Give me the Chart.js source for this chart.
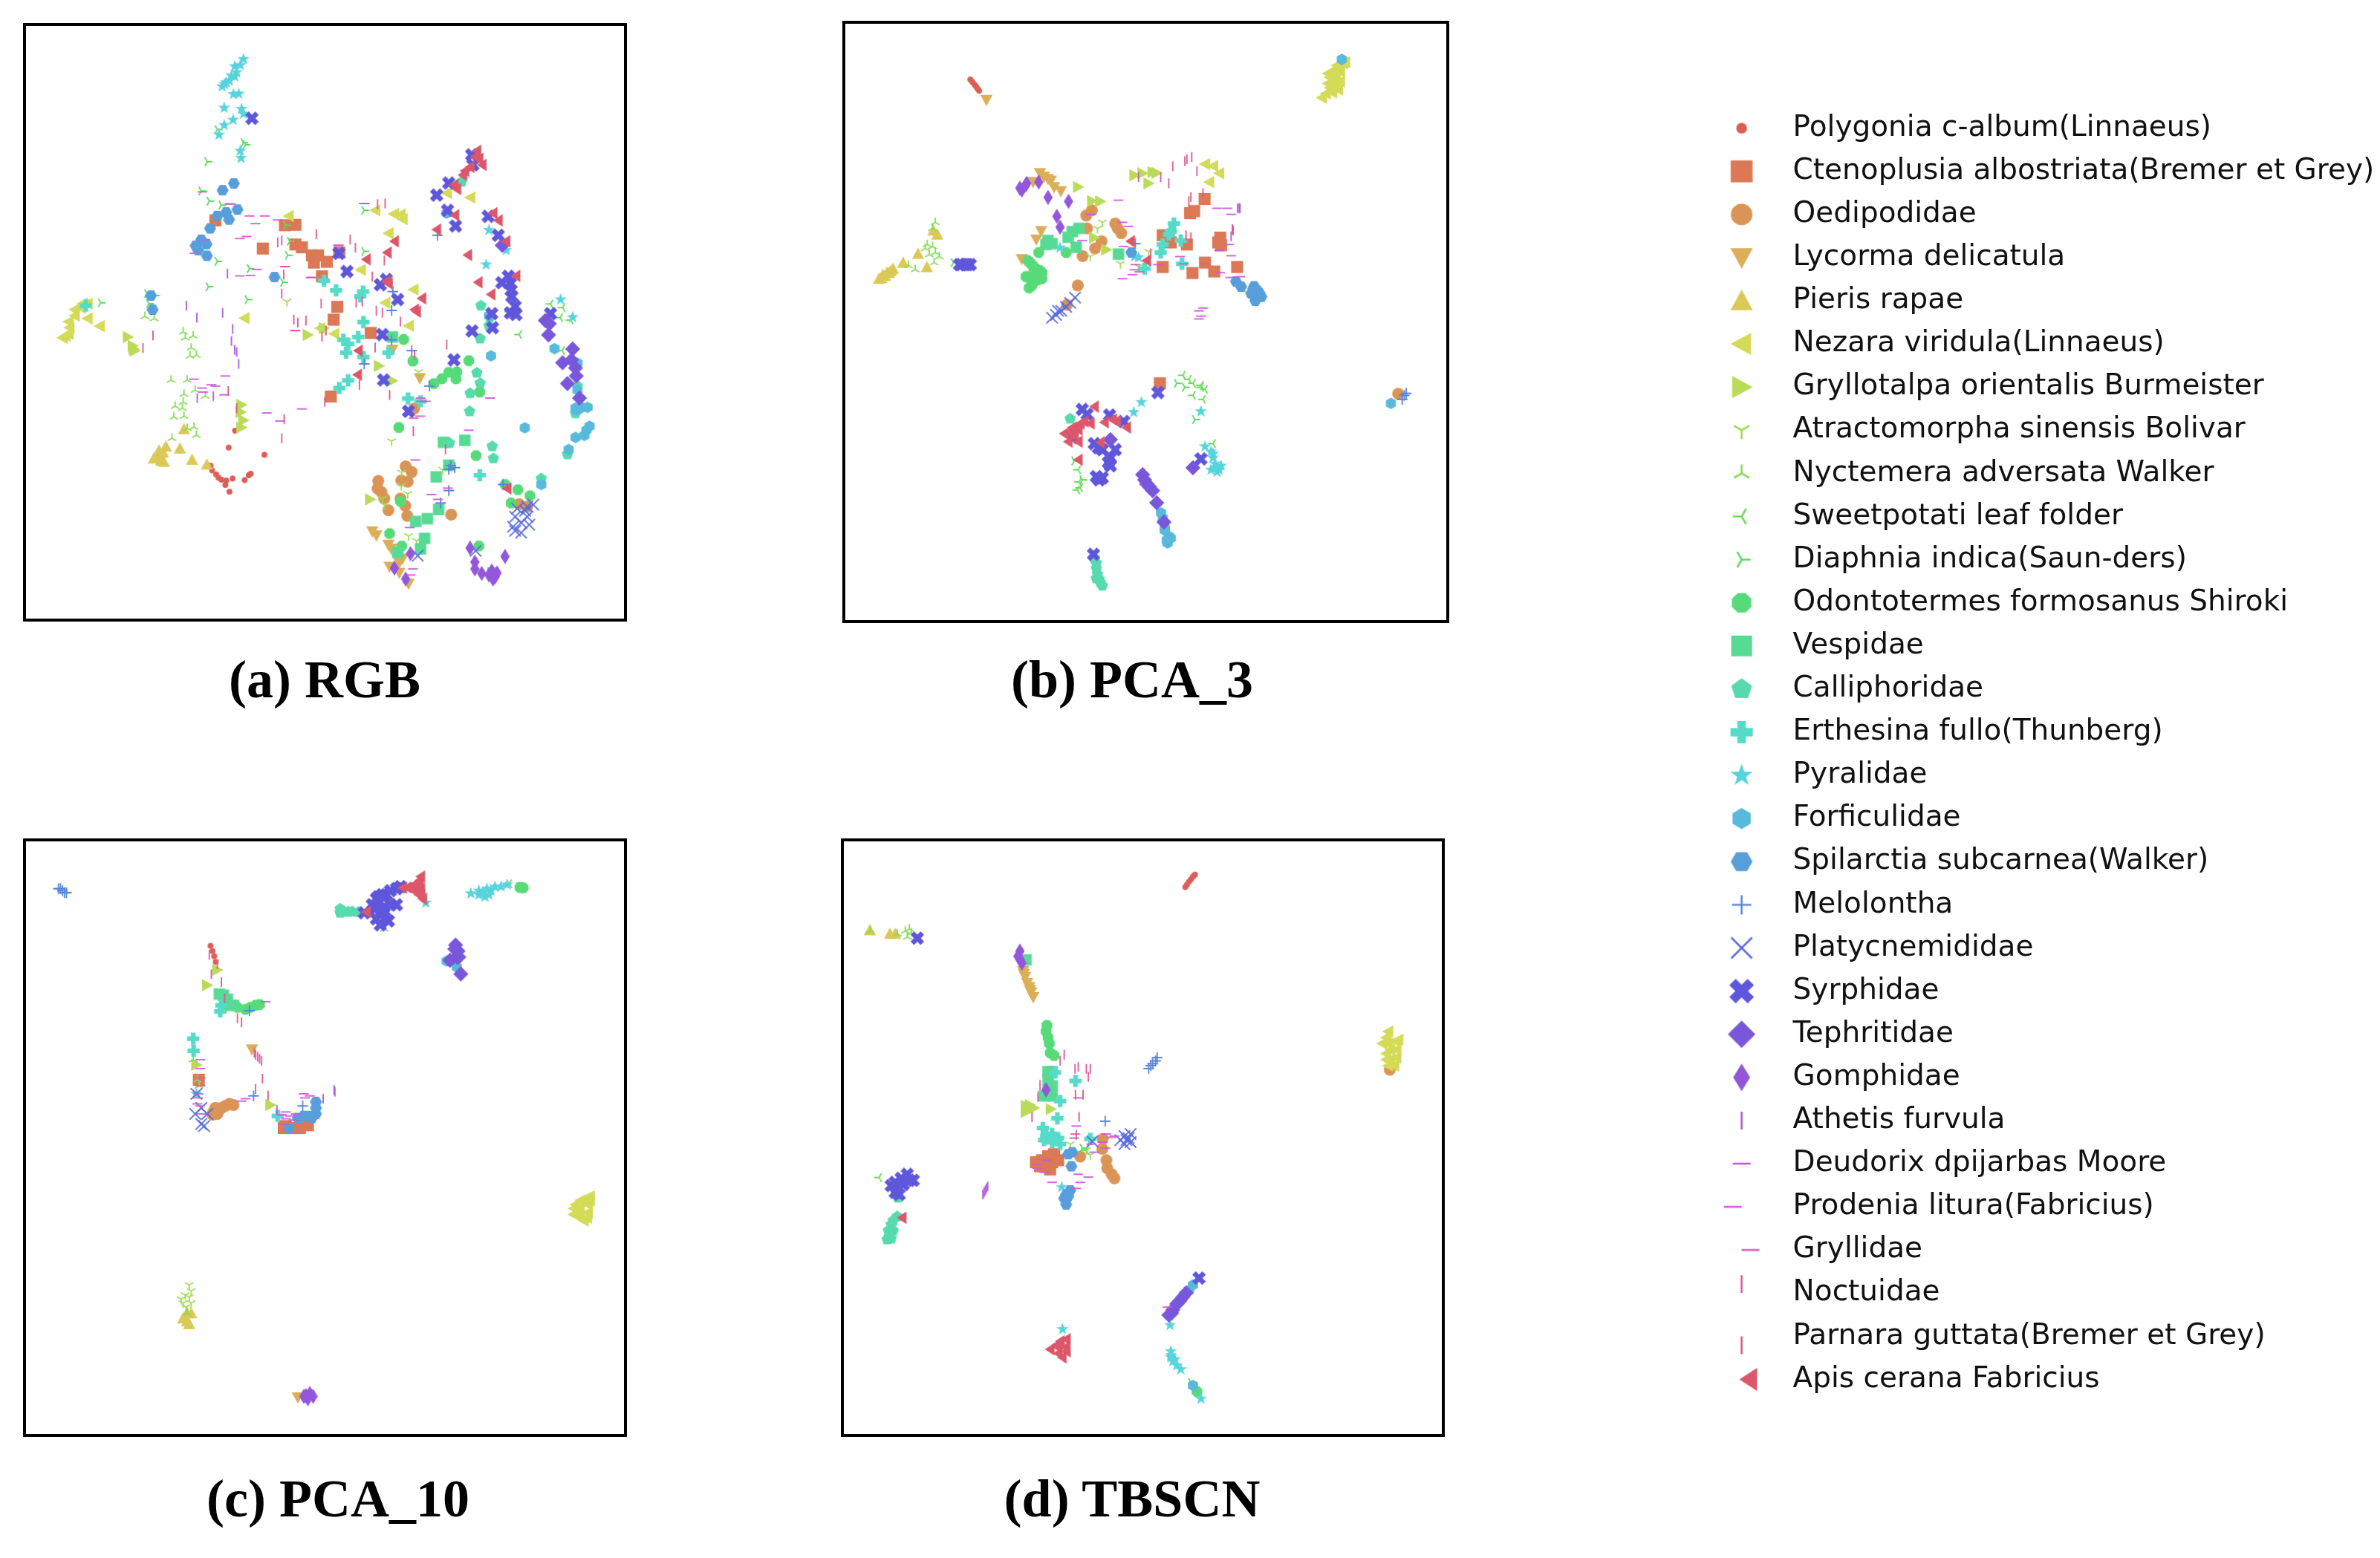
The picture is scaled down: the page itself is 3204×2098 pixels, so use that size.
<!DOCTYPE html>
<html><head><meta charset="utf-8">
<script src="https://cdn.jsdelivr.net/npm/chart.js@4"></script>
<style>
html,body{margin:0;padding:0;background:#fff;width:3204px;height:2098px;overflow:hidden}
canvas{position:absolute;display:block}
canvas.panel{filter:blur(.5px)}
.t{position:absolute;font:bold 72px "Liberation Serif",serif;color:#000;transform:translate(-50%,-50%);white-space:nowrap;line-height:1}
</style></head><body>
<script>
const names=["Polygonia c-album(Linnaeus)","Ctenoplusia albostriata(Bremer et Grey)","Oedipodidae","Lycorma delicatula","Pieris rapae","Nezara viridula(Linnaeus)","Gryllotalpa orientalis Burmeister","Atractomorpha sinensis Bolivar","Nyctemera adversata Walker","Sweetpotati leaf folder","Diaphnia indica(Saun-ders)","Odontotermes formosanus Shiroki","Vespidae","Calliphoridae","Erthesina fullo(Thunberg)","Pyralidae","Forficulidae","Spilarctia subcarnea(Walker)","Melolontha","Platycnemididae","Syrphidae","Tephritidae","Gomphidae","Athetis furvula","Deudorix dpijarbas Moore","Prodenia litura(Fabricius)","Gryllidae","Noctuidae","Parnara guttata(Bremer et Grey)","Apis cerana Fabricius"];
const panelTitles=["(a) RGB","(b) PCA_3","(c) PCA_10","(d) TBSCN"];

// ---- (a) RGB ----
const rgb00=[[574,1061],[558,1103],[647,1121],[513,1148],[517,1160],[527,1170],[533,1178],[540,1183],[552,1185],[568,1180],[598,1184],[613,1168],[608,1172],[550,1196],[560,1213]];
const rgb01=[[525,538],[698,550],[724,549],[643,608],[724,598],[740,605],[765,625],[780,625],[770,643],[802,641],[790,677],[833,618],[828,753],[819,785],[911,818],[812,976]];
const rgb02=[[1019,1006],[998,1150],[1013,1164],[987,1185],[1003,1188],[930,1186],[928,1205],[938,1214],[945,1230],[985,1230],[997,1248],[955,1259],[1002,1273],[1111,1270],[1280,1244],[1300,1250]];
const rgb03=[[965,860],[1033,931],[915,1312],[925,1322],[955,1345],[962,1355],[990,1380],[982,1390],[958,1400],[982,1415],[1005,1442]];
const rgb04=[[447,1057],[402,1100],[437,1105],[467,1133],[504,1145],[395,1115],[385,1120],[378,1128],[390,1135],[397,1138],[372,1130],[385,1110]];
const rgb05=[[195,745],[207,745],[175,760],[175,775],[207,782],[237,801],[160,790],[162,805],[160,820],[145,830],[152,825],[190,755],[597,781],[707,527],[922,513],[968,522],[985,523],[990,535],[955,570],[886,661],[947,743],[1017,710],[1005,800],[820,820],[785,806],[1100,470],[1158,481]];
const rgb06=[[308,828],[320,850],[325,862],[322,858],[590,997],[588,1015],[595,1035],[590,1053],[755,823],[932,900],[965,937],[910,1232],[795,806]];
const rgb07=[[963,1087],[1003,1218],[1030,915],[1005,1323],[1025,1335],[940,1230],[945,1245],[988,1165],[1090,1158],[987,1198],[703,740]];
const rgb08=[[445,815],[470,825],[450,830],[465,855],[462,875],[478,873],[415,935],[455,935],[447,970],[475,960],[500,975],[425,1000],[445,990],[443,1005],[422,1027],[447,1025],[455,1055],[478,1072],[472,1052],[417,1080],[350,777],[373,782]];
const rgb09=[[1280,822],[1358,746],[1388,755],[1382,780],[1408,786],[1387,862],[1255,765]];
const rgb10=[[505,392],[595,345],[490,465],[510,490],[540,500],[530,640],[610,658],[508,703],[605,735],[705,625],[240,743],[355,720],[375,725],[360,745],[895,513],[895,615],[693,692],[700,550],[710,590],[530,312],[600,350]];
const rgb11=[[993,834],[1016,888],[1125,915],[1105,916],[1123,932],[1088,932],[1068,944],[1155,887],[1182,965],[981,1053],[1173,1123],[1277,1208],[1307,1223],[1260,1241],[958,1317],[988,1348],[1180,1348],[985,1237],[1245,1195]];
const rgb12=[[965,828],[1092,1090],[1145,1085],[1105,1147],[1074,1176],[1080,1257],[1052,1280],[1023,1287],[1045,1329],[1035,1355],[978,1364],[1215,1415]];
const rgb13=[[1185,750],[1183,832],[1158,968],[1175,917],[1183,943],[1157,1013],[1213,1100],[1216,1130],[1107,1092],[1335,1180],[1205,800],[1400,1120],[1420,1018],[1425,950],[1137,442],[1207,778]];
const rgb14=[[203,750],[795,688],[825,712],[892,715],[885,727],[893,791],[880,828],[843,835],[855,845],[850,867],[893,878],[955,867],[855,936],[833,955],[1004,981],[1035,988],[1182,1172]];
const rgb15=[[595,137],[587,152],[573,155],[578,170],[565,178],[573,180],[560,190],[552,195],[542,205],[548,200],[570,224],[583,223],[547,258],[590,261],[595,273],[569,288],[547,301],[534,325],[587,365],[589,383],[1205,562],[1198,648],[1248,612],[1383,735],[1413,779]];
const rgb16=[[1210,875],[1294,1054],[1368,857],[1425,893],[1425,960],[1420,1005],[1435,1003],[1450,1003],[1447,1060],[1455,1050],[1442,1073],[1420,1078],[1403,1108],[1335,1195],[1205,775],[1100,520],[1422,1010],[1432,1005]];
const rgb17=[[571,446],[543,463],[580,511],[552,518],[530,527],[559,536],[512,558],[490,586],[503,597],[476,601],[482,612],[504,626],[672,679],[365,725],[369,760]];
const rgb18=[[1077,575],[966,715],[963,762],[963,835],[1013,862],[895,895],[1057,950],[1110,1148],[1120,1153],[1105,1157],[1105,1210],[1085,1241],[1240,1195]];
const rgb19=[[1028,1372],[1172,1360],[1275,1255],[1300,1250],[1315,1245],[1270,1275],[1300,1275],[1285,1290],[1265,1300],[1305,1295],[1285,1315],[1270,1310],[1295,1260]];
const rgb20=[[616,284],[1162,375],[1165,400],[1105,445],[1075,475],[1102,513],[1122,552],[1203,528],[1228,575],[832,620],[852,665],[950,685],[935,698],[978,735],[940,822],[943,935],[1005,1013],[1118,885],[1163,813],[1212,770],[1214,805],[1253,677],[1237,693],[1258,695],[1260,712],[1262,727],[1270,752],[1258,768],[1272,772],[1358,770]];
const rgb21=[[1238,600],[1345,787],[1355,795],[1353,823],[1413,858],[1388,892],[1410,885],[1420,905],[1422,925],[1400,944],[1430,980]];
const rgb22=[[1010,1367],[970,1403],[998,1430],[1158,1353],[1170,1388],[1170,1405],[1187,1416],[1245,1374],[1205,1420],[1215,1430],[1225,1415],[1212,1410],[1220,1425]];
const rgb23=[[453,750],[479,780],[543,768],[555,670],[568,808],[565,838],[573,860],[578,865],[583,895],[480,980],[520,975]];
const rgb24=[[472,933],[550,925],[492,955],[515,947],[525,950],[495,965],[547,972],[653,1017],[740,1007],[686,1037],[1022,1134],[1008,1302],[1062,1220],[1078,1232],[1016,1405],[1010,1420],[1155,1060],[1208,980]];
const rgb25=[[575,497],[622,527],[660,527],[637,546],[692,537],[598,583],[615,578],[485,620],[512,586],[598,676],[641,660],[710,653],[775,680],[735,812],[842,600],[906,496],[1047,980],[1060,988],[1046,1025],[1030,1030],[1115,1204],[505,467]];
const rgb26=[[548,497],[600,675],[686,653],[750,680],[712,812],[820,600],[884,496],[1025,988]];
const rgb27=[[928,510],[947,508],[860,598],[873,618],[945,650],[690,600],[680,605],[695,685],[690,732],[788,757],[875,755],[890,752],[925,775],[940,780],[915,690],[985,802],[720,797]];
const rgb28=[[730,780],[750,775],[790,815],[800,800],[922,842],[883,935],[958,960],[1100,835],[1017,1050],[1097,1095],[797,977],[690,1068],[696,1020],[557,950],[578,993],[370,812],[345,843],[776,560],[1020,860]];
const rgb29=[[1165,365],[1160,380],[1170,385],[1178,400],[1148,405],[1135,415],[1130,425],[1108,450],[1115,460],[1110,525],[1205,520],[1218,538],[1065,561],[1237,590],[1142,624],[1168,692],[1200,722],[1028,732],[1010,760],[1015,765],[960,590],[942,618],[890,635],[940,690],[945,695],[870,862],[868,922],[1262,676],[1240,1205]];

// ---- (b) PCA_3 ----
const pca3_00=[[352,170],[357,176],[362,182],[366,187],[370,193],[374,198]];
const pca3_01=[[823,925],[934,467],[908,497],[898,502],[830,557],[850,575],[890,580],[973,563],[968,575],[975,582],[830,636],[935,625],[904,651],[958,647],[1015,636]];
const pca3_02=[[654,495],[640,508],[642,540],[712,528],[718,540],[727,552],[678,572],[662,590],[631,609],[619,682],[592,730],[1415,951]];
const pca3_03=[[392,221],[525,403],[535,412],[545,418],[552,422],[560,438],[577,448],[528,547],[516,568],[480,617],[508,425]];
const pca3_04=[[270,555],[260,545],[222,603],[185,625],[244,636],[160,640],[150,650],[140,658],[130,663],[155,645],[125,665],[135,655],[145,650]];
const pca3_05=[[1283,127],[1262,135],[1250,150],[1245,165],[1260,170],[1240,180],[1250,195],[1265,195],[1235,205],[1225,215],[1270,150],[1270,175],[1278,130],[1265,140],[1240,155],[1255,155],[1255,178],[1245,190],[1262,188],[1250,202],[935,380],[955,385],[970,403],[945,425]];
const pca3_06=[[620,437],[655,472],[675,473],[760,408],[780,403],[805,400],[815,402],[795,428],[660,563],[690,593]];
const pca3_07=[[725,628],[795,598],[680,525],[668,540],[650,610],[1040,700],[770,635]];
const pca3_08=[[265,525],[258,540],[245,580],[240,590],[258,585],[265,600],[275,610],[262,625],[215,642],[198,632],[250,605]];
const pca3_09=[[880,905],[895,915],[905,925],[925,930],[935,940],[930,965],[905,955],[925,935],[620,1140],[622,1170],[625,1185],[618,1190],[955,1075]];
const pca3_10=[[865,925],[885,935],[910,1015],[610,1118],[630,1165],[310,625]];
const pca3_11=[[500,625],[510,640],[525,645],[530,665],[510,660],[495,660],[505,675],[498,688],[520,668],[522,600],[590,600],[495,620],[505,630],[515,640],[530,650],[490,660],[510,672],[505,682]];
const pca3_12=[[545,570],[555,578],[595,562],[605,548],[622,540],[615,587],[720,604],[540,580]];
const pca3_13=[[600,1013],[660,1360],[665,1385],[668,1400],[665,1410],[675,1420],[680,1428],[665,1372],[672,1412]];
const pca3_14=[[858,528],[850,548],[845,555],[875,570],[830,580],[825,600],[878,628],[785,640]];
const pca3_15=[[777,972],[758,997],[925,995],[935,1082],[950,1095],[955,1110],[960,1125],[975,1130],[965,1145],[575,588],[760,610],[770,612],[960,1135],[970,1140],[950,1140],[955,1100]];
const pca3_16=[[1275,120],[826,1247],[835,1285],[845,1305],[842,1322],[1397,975],[830,1260],[835,1290],[850,1310],[840,1315]];
const pca3_17=[[752,600],[1012,672],[1025,685],[1057,684],[1070,700],[1060,720],[1075,710],[1055,690],[1065,695],[1050,702]];
const pca3_18=[[1430,955],[1435,950],[1425,965],[762,578]];
const pca3_19=[[612,712],[600,725],[590,735],[578,745],[565,755],[555,762],[570,745]];
const pca3_20=[[325,630],[340,630],[352,630],[330,630],[345,630],[818,948],[630,990],[642,1002],[698,1004],[733,1020],[660,1075],[680,1090],[712,1090],[700,1110],[700,1130],[665,1157],[680,1160],[925,1113],[658,1350],[605,1060],[670,1085],[695,1122],[672,1165]];
const pca3_21=[[780,1152],[790,1175],[805,1192],[815,1222],[833,1270],[905,1135],[700,1065],[785,1165],[797,1182]];
const pca3_22=[[480,445],[492,428],[522,425],[545,463],[596,473],[567,510],[575,537],[475,440],[490,432]];
const pca3_23=[[1020,490],[1005,545],[1000,560],[1022,490],[1016,490]];
const pca3_24=[[720,470],[650,505],[730,525],[745,535],[965,490],[990,490],[1000,505],[995,580],[970,595],[1000,608],[930,738],[920,745],[925,758],[920,765],[630,570],[760,643],[755,655],[730,665]];
const pca3_25=[[1035,660],[1010,662],[985,650],[895,628],[885,610],[745,585],[830,630]];
const pca3_26=[[750,630],[760,648],[920,628]];
const pca3_27=[[885,385],[890,380],[902,375],[855,398],[915,410],[825,425],[770,425],[845,440]];
const pca3_28=[[900,450],[930,440],[895,460],[800,590],[888,545],[900,550],[1003,530]];
const pca3_29=[[650,983],[590,1050],[605,1035],[615,1025],[590,1045],[625,1020],[640,1025],[675,1022],[705,1020],[730,1035],[665,1072],[610,1115],[780,620],[740,572],[575,1050],[595,1035],[610,1040],[585,1070],[610,1070],[695,1015],[600,1055]];

// ---- (c) PCA_10 ----
const pca10_00=[[513,292],[518,305],[522,318],[526,332]];
const pca10_01=[[484,625],[700,740],[715,745],[735,745],[755,738],[695,745]];
const pca10_02=[[520,705],[530,710],[525,695],[540,695],[550,690],[560,685],[570,688],[535,700],[518,712]];
const pca10_03=[[616,550],[730,1415]];
const pca10_04=[[455,1205],[448,1215],[465,1205],[455,1225],[460,1232],[445,1218]];
const pca10_05=[[1455,915],[1445,920],[1432,925],[1420,935],[1415,945],[1430,945],[1450,935],[1450,955],[1415,960],[1430,965],[1448,968],[1440,975],[1425,955],[1455,925]];
const pca10_06=[[505,390],[530,352],[662,688],[478,588]];
const pca10_07=[[460,1135],[465,1150],[450,1160],[440,1170],[460,1165],[445,1180],[465,1180],[452,1190]];
const pca10_08=[[470,575],[480,625],[485,640],[945,250],[455,1205]];
const pca10_09=[[1255,138]];
const pca10_10=[[1290,148],[1280,145]];
const pca10_11=[[545,445],[580,445],[600,450],[612,445],[625,440],[635,438],[570,440],[1290,148],[1282,147]];
const pca10_12=[[535,412],[545,415],[555,425],[570,440]];
const pca10_13=[[835,200],[845,207],[855,207],[865,207],[880,208],[835,210]];
const pca10_14=[[470,523],[471,553],[540,440],[537,455],[680,715]];
const pca10_15=[[1048,185],[1160,162],[1180,155],[1190,160],[1200,150],[1195,170],[1210,155],[1220,145],[1235,145],[1250,140],[1180,165],[1205,165],[478,660]];
const pca10_16=[[1100,330],[1125,345]];
const pca10_17=[[775,680],[775,695],[775,710],[760,715],[745,715],[730,720],[765,720],[708,745]];
const pca10_18=[[145,155],[140,150],[150,160],[155,160],[135,150],[610,453],[620,665],[742,690]];
const pca10_19=[[475,710],[490,695],[505,710],[490,735],[497,740],[478,660]];
const pca10_20=[[895,210],[915,190],[925,175],[940,165],[950,165],[960,155],[975,150],[985,145],[945,195],[960,190],[975,190],[935,210],[945,205],[920,200],[925,225],[945,225],[935,240],[955,230],[930,170]];
const pca10_21=[[1122,290],[1128,305],[1125,320],[1108,328],[1135,362],[1120,300],[1130,320]];
const pca10_22=[[750,1410],[760,1405],[768,1412],[755,1418],[745,1412]];
const pca10_23=[[820,650],[822,655],[793,672],[678,700]];
const pca10_24=[[760,665],[745,660],[590,678],[600,672],[480,685],[490,710],[690,712],[700,705],[710,715],[700,722],[720,725],[695,735],[725,710]];
const pca10_25=[[500,575],[500,597],[500,620],[500,640],[662,431],[495,660],[760,670]];
const pca10_26=[[470,670],[475,690]];
const pca10_27=[[510,327],[515,375],[530,350],[625,575],[630,580],[635,585],[622,570],[640,590],[625,660]];
const pca10_28=[[540,370],[548,410],[580,460],[590,470],[642,610],[656,652]];
const pca10_29=[[1025,120],[1022,130],[1018,140],[1005,143],[992,147],[980,148],[1000,150],[1015,155],[1025,150],[1025,165],[1030,175],[1010,140],[1020,165],[890,208]];

// ---- (d) TBSCN ----
const tb00=[[910,115],[905,120],[900,127],[895,133],[890,140],[886,146]];
const tb01=[[515,830],[530,825],[545,815],[560,810],[570,825],[540,835],[555,830],[525,840],[550,848]];
const tb02=[[681,772],[680,797],[625,816],[690,825],[692,845],[703,860],[710,870],[1394,600]];
const tb03=[[483,355],[488,370],[493,385],[498,395],[503,408],[508,420],[485,362],[500,402]];
const tb04=[[102,253],[152,262],[165,262]];
const tb05=[[1390,505],[1385,520],[1375,535],[1390,535],[1410,530],[1395,550],[1385,560],[1410,550],[1395,575],[1410,570],[1405,590],[1390,590],[1385,575],[1415,525]];
const tb06=[[490,690],[495,700],[505,695],[490,705],[500,688],[510,695],[552,698]];
const tb07=[[650,812],[600,785],[640,800]];
const tb08=[[103,255],[170,262],[190,255],[200,250],[195,270],[205,260]];
const tb09=[[125,868],[920,1405],[640,800]];
const tb10=[[900,1378],[630,795]];
const tb11=[[542,490],[540,505],[545,520],[548,535],[550,558],[560,565],[915,1400]];
const tb12=[[545,605],[555,605],[545,625],[555,640],[545,650],[555,665],[535,665],[490,327]];
const tb13=[[172,918],[170,965],[160,975],[155,985],[148,1000],[150,1015],[145,1022],[160,1000],[155,1020]];
const tb14=[[562,607],[613,628],[575,678],[568,721],[532,745],[540,765],[555,760],[570,770],[535,775],[555,780],[575,785],[545,770],[560,770],[650,772]];
const tb15=[[579,892],[581,1245],[848,1235],[850,1300],[850,1315],[855,1325],[865,1335],[875,1345],[850,1310],[860,1320],[925,1418]];
const tb16=[[905,1135],[895,1148],[905,1385]];
const tb17=[[595,810],[605,805],[603,840],[600,900],[590,910],[585,920],[590,935],[595,915]];
const tb18=[[687,728],[800,590],[805,585],[812,578],[816,570],[795,597]];
const tb19=[[655,778],[735,765],[725,775],[745,770],[735,785],[750,760],[740,775],[750,780]];
const tb20=[[220,273],[920,1118],[155,888],[165,880],[180,870],[195,860],[210,875],[185,885],[170,895],[165,905],[175,910],[200,875]];
const tb21=[[845,1210],[855,1197],[865,1182],[880,1165],[852,1205],[872,1175],[888,1155]];
const tb22=[[475,305],[475,325],[470,318],[480,335],[540,650]];
const tb23=[[383,910],[386,905],[389,900],[392,895],[395,890]];
const tb24=[[610,770],[540,825],[535,855],[555,880],[625,880],[620,860],[645,867],[615,895],[690,760],[710,765],[680,780],[660,805],[620,670],[615,740]];
const tb25=[[533,835],[530,845],[700,795],[715,768]];
const tb26=[[600,760],[640,785],[830,1190]];
const tb27=[[612,610],[620,605],[640,610],[650,610],[645,630],[525,650],[520,680],[585,575],[575,590]];
const tb28=[[632,650],[622,705],[613,650],[615,750],[505,705]];
const tb29=[[172,968],[540,1295],[555,1285],[565,1275],[580,1270],[578,1290],[560,1305],[570,1315],[580,1300],[560,1290]];

const rgbData=[rgb00,rgb01,rgb02,rgb03,rgb04,rgb05,rgb06,rgb07,rgb08,rgb09,rgb10,rgb11,rgb12,rgb13,rgb14,rgb15,rgb16,rgb17,rgb18,rgb19,rgb20,rgb21,rgb22,rgb23,rgb24,rgb25,rgb26,rgb27,rgb28,rgb29];
const pca3Data=[pca3_00,pca3_01,pca3_02,pca3_03,pca3_04,pca3_05,pca3_06,pca3_07,pca3_08,pca3_09,pca3_10,pca3_11,pca3_12,pca3_13,pca3_14,pca3_15,pca3_16,pca3_17,pca3_18,pca3_19,pca3_20,pca3_21,pca3_22,pca3_23,pca3_24,pca3_25,pca3_26,pca3_27,pca3_28,pca3_29];
const pca10Data=[pca10_00,pca10_01,pca10_02,pca10_03,pca10_04,pca10_05,pca10_06,pca10_07,pca10_08,pca10_09,pca10_10,pca10_11,pca10_12,pca10_13,pca10_14,pca10_15,pca10_16,pca10_17,pca10_18,pca10_19,pca10_20,pca10_21,pca10_22,pca10_23,pca10_24,pca10_25,pca10_26,pca10_27,pca10_28,pca10_29];
const tbData=[tb00,tb01,tb02,tb03,tb04,tb05,tb06,tb07,tb08,tb09,tb10,tb11,tb12,tb13,tb14,tb15,tb16,tb17,tb18,tb19,tb20,tb21,tb22,tb23,tb24,tb25,tb26,tb27,tb28,tb29];

// marker kind and size (px) per series, legend size
const kinds=['circle','square','circle','triD','triU','triL','triR','y1','y2','y3','y4','oct','square','pent','plusF','star','hex1','hex2','plus','x','xF','diamond','thin','vline','hline','tickL','tickR','tickU','tickD','caretL'];
const legendSizes=[14.5,29.5,29,30,30,30,30,24,24,24,24,27,28,28,30,30,27,28,26,28,29,37,37,24,24,24,24,24,24,26];
const panelScale=0.55;

function poly(c,n,r,rot){c.beginPath();for(let i=0;i<n;i++){const a=rot+i*2*Math.PI/n;c.lineTo(r*Math.cos(a),r*Math.sin(a));}c.closePath();c.fill();}
function segs(c,l){c.beginPath();for(const [a,b,d,e] of l){c.moveTo(a,b);c.lineTo(d,e);}c.stroke();}
function arms(c,r,rot){const l=[];for(let i=0;i<3;i++){const a=rot+i*2*Math.PI/3;l.push([0,0,r*Math.cos(a),r*Math.sin(a)]);}segs(c,l);}
function marker(kind,s,color,lw){
  const size=Math.ceil(s*2)+6, cv=document.createElement('canvas');
  cv.width=cv.height=size+(size%2);
  const c=cv.getContext('2d');
  c.translate(cv.width/2,cv.height/2);
  c.fillStyle=c.strokeStyle=color;c.lineWidth=lw;c.lineCap='butt';
  const r=s/2,P=Math.PI;
  switch(kind){
    case 'circle':c.beginPath();c.arc(0,0,r,0,2*P);c.fill();break;
    case 'square':c.fillRect(-r,-r,s,s);break;
    case 'triU':c.beginPath();c.moveTo(0,-r);c.lineTo(r,r*.85);c.lineTo(-r,r*.85);c.fill();break;
    case 'triD':c.beginPath();c.moveTo(0,r);c.lineTo(r,-r*.85);c.lineTo(-r,-r*.85);c.fill();break;
    case 'triL':c.beginPath();c.moveTo(-r,0);c.lineTo(r*.85,r);c.lineTo(r*.85,-r);c.fill();break;
    case 'triR':c.beginPath();c.moveTo(r,0);c.lineTo(-r*.85,r);c.lineTo(-r*.85,-r);c.fill();break;
    case 'y1':arms(c,r,P/2);break;
    case 'y2':arms(c,r,-P/2);break;
    case 'y3':arms(c,r,P);break;
    case 'y4':arms(c,r,0);break;
    case 'oct':poly(c,8,r*1.05,P/8);break;
    case 'pent':poly(c,5,r*1.05,-P/2);break;
    case 'hex1':poly(c,6,r*1.05,-P/2);break;
    case 'hex2':poly(c,6,r*1.05,0);break;
    case 'plusF':{const t=r*.38;c.fillRect(-r,-t,s,2*t);c.fillRect(-t,-r,2*t,s);break;}
    case 'star':{c.beginPath();for(let i=0;i<10;i++){const R=i%2?r*.42:r*1.05,a=-P/2+i*P/5;c.lineTo(R*Math.cos(a),R*Math.sin(a));}c.closePath();c.fill();break;}
    case 'plus':segs(c,[[-r,0,r,0],[0,-r,0,r]]);break;
    case 'x':segs(c,[[-r,-r,r,r],[-r,r,r,-r]]);break;
    case 'xF':{c.save();c.rotate(P/4);const t=r*.42,L=r*1.2;c.fillRect(-L,-t,2*L,2*t);c.fillRect(-t,-L,2*t,2*L);c.restore();break;}
    case 'diamond':poly(c,4,r,0);break;
    case 'thin':c.beginPath();c.moveTo(0,-r);c.lineTo(r*.62,0);c.lineTo(0,r);c.lineTo(-r*.62,0);c.fill();break;
    case 'vline':segs(c,[[0,-r,0,r]]);break;
    case 'hline':segs(c,[[-r,0,r,0]]);break;
    case 'tickL':segs(c,[[-s,0,0,0]]);break;
    case 'tickR':segs(c,[[0,0,s,0]]);break;
    case 'tickU':segs(c,[[0,-s,0,0]]);break;
    case 'tickD':segs(c,[[0,0,0,s]]);break;
    case 'caretL':c.beginPath();c.moveTo(-s*.12,0);c.lineTo(s*.8,-s*.6);c.lineTo(s*.8,s*.6);c.fill();break;
  }
  return cv;
}
const colors=names.map((_,i)=>`hsl(${3.6+12*i},65%,60%)`);
const panelMarkers=kinds.map((k,i)=>marker(k,legendSizes[i]*panelScale,colors[i],1.8));
const legendMarkers=kinds.map((k,i)=>marker(k,legendSizes[i],colors[i],2.6));

const frame={id:'frame',afterDraw(ch){const c=ch.ctx;c.save();c.strokeStyle='#000';c.lineWidth=4;c.strokeRect(2,2,ch.width-4,ch.height-4);c.restore();}};

// panel placement: page rect and the value window of each hidden axis
const panels=[
 {d:rgbData,box:[31,31,813,806],xr:[60,1535],yr:[60,1523],tx:437,ty:915},
 {d:pca3Data,box:[1134,28,817,811],xr:[47,1529],yr:[37,1508],tx:1524,ty:915},
 {d:pca10Data,box:[31,1129,813,806],xr:[60,1535],yr:[38,1500],tx:455,ty:2018},
 {d:tbData,box:[1132,1129,813,806],xr:[43,1518],yr:[38,1500],tx:1524,ty:2018}
];
panels.forEach((p,pi)=>{
  const cv=document.createElement('canvas');cv.className='panel';
  cv.width=p.box[2];cv.height=p.box[3];cv.style.left=p.box[0]+'px';cv.style.top=p.box[1]+'px';
  document.body.appendChild(cv);
  new Chart(cv,{type:'scatter',
    data:{datasets:p.d.map((pts,i)=>({label:names[i],order:29-i,data:pts.map(([x,y])=>({x,y})),pointStyle:panelMarkers[i],pointRadius:6,backgroundColor:colors[i],borderColor:colors[i],showLine:false}))},
    options:{responsive:false,animation:false,events:[],layout:{padding:0},
      plugins:{legend:{display:false},tooltip:{enabled:false},title:{display:false}},
      scales:{x:{type:'linear',display:false,min:p.xr[0],max:p.xr[1]},y:{type:'linear',display:false,reverse:true,min:p.yr[0],max:p.yr[1]}}},
    plugins:[frame]});
  const t=document.createElement('div');t.className='t';t.textContent=panelTitles[pi];t.style.left=p.tx+'px';t.style.top=p.ty+'px';document.body.appendChild(t);
});

// legend chart: same series, no points of its own, library legend only
const lc=document.createElement('canvas');
lc.width=954;lc.height=1900;lc.style.left='2250px';lc.style.top='114px';document.body.appendChild(lc);
new Chart(lc,{type:'scatter',
  data:{datasets:names.map((n,i)=>({label:n,data:[],pointStyle:legendMarkers[i],backgroundColor:colors[i],borderColor:colors[i]}))},
  options:{responsive:false,animation:false,events:[],layout:{padding:{left:26,top:20}},
    plugins:{tooltip:{enabled:false},title:{display:false},
      legend:{display:true,position:'left',align:'start',maxWidth:920,
        labels:{usePointStyle:true,pointStyleWidth:99,color:'#111',padding:19.1,font:{family:'"DejaVu Sans"',size:39,weight:'normal'}}}},
    scales:{x:{display:false},y:{display:false}}}});
</script>
</body></html>
